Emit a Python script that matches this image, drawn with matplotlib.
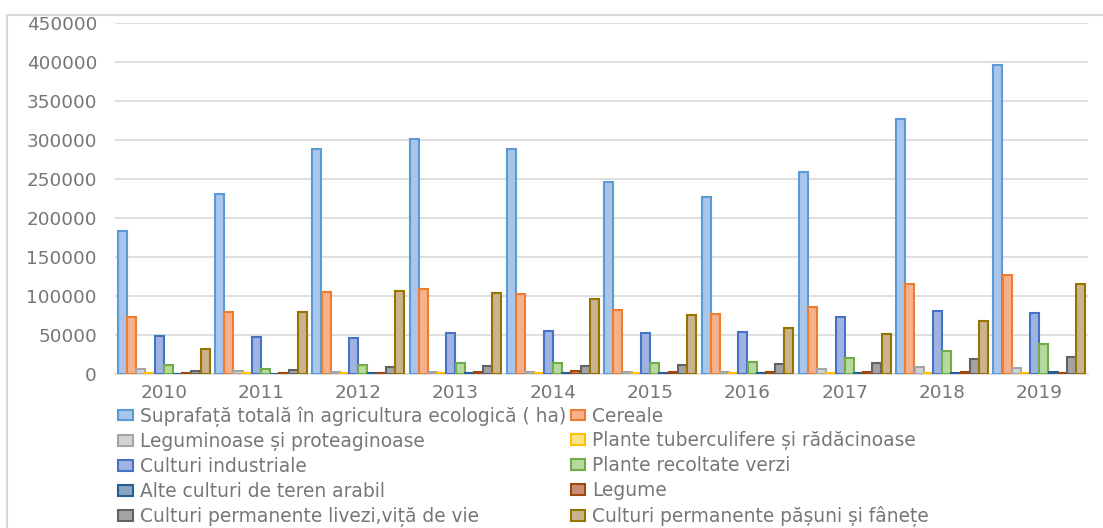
import matplotlib.pyplot as plt
import numpy as np
from matplotlib.patches import Rectangle

# Organic farming areas by crop group (ha), 2010-2019
years = ['2010', '2011', '2012', '2013', '2014', '2015', '2016', '2017', '2018', '2019']

total = [183300, 230400, 288500, 301300, 288500, 246000, 227000, 259000, 327000, 395800]
cereale = [73000, 79500, 105000, 109000, 102600, 81500, 76500, 85400, 115000, 127000]
leguminoase = [6400, 3500, 2500, 2000, 2000, 2000, 2500, 5900, 9400, 7200]
tuberculifere = [800, 1500, 1200, 900, 800, 900, 1000, 900, 1000, 900]
industriale = [48200, 48000, 45700, 52000, 54600, 53000, 53800, 73400, 80700, 78600]
verzi = [11000, 5900, 11000, 13600, 13600, 13500, 15400, 20500, 29000, 38000]
alte = [600, 500, 700, 800, 900, 900, 1000, 1000, 1200, 2000]
legume = [1000, 1000, 1200, 2500, 3300, 2500, 2500, 2500, 2500, 1500]
livezi = [3900, 5000, 8500, 10600, 10000, 11000, 12300, 13600, 18700, 22200]
pasuni = [32400, 79000, 106000, 103500, 96000, 76000, 58500, 50800, 67500, 115800]

labels = [
    'Suprafață totală în agricultura ecologică ( ha)',
    'Cereale',
    'Leguminoase și proteaginoase',
    'Plante tuberculifere și rădăcinoase',
    'Culturi industriale',
    'Plante recoltate verzi',
    'Alte culturi de teren arabil',
    'Legume',
    'Culturi permanente livezi,viță de vie',
    'Culturi permanente pășuni și fânețe',
]
series = [total, cereale, leguminoase, tuberculifere, industriale,
          verzi, alte, legume, livezi, pasuni]

edge_colors = ['#5B9BD5', '#ED7D31', '#A5A5A5', '#FFC000', '#4472C4',
               '#70AD47', '#255E91', '#9E480E', '#636363', '#997300']
fill_colors = ['#A9C6EA', '#F6B08C', '#D3D3D3', '#FFE38A', '#A0B2E2',
               '#B6D9A0', '#8AA4C4', '#C98D73', '#A3A3A3', '#C9B48E']

text_color = '#767676'
grid_color = '#D9D9D9'

fig = plt.figure(figsize=(11.03, 5.28), dpi=100)
ax = fig.add_axes([0.1043, 0.2917, 0.8821, 0.6647])

x = np.arange(len(years))
n = len(series)
w = 0.945 / n
for k, vals in enumerate(series):
    offs = (k - (n - 1) / 2) * w
    ax.bar(x + offs, vals, width=w * 0.98, color=fill_colors[k],
           edgecolor=edge_colors[k], linewidth=1.5, label=labels[k], zorder=3)

ax.set_xlim(-0.5, len(years) - 0.5)
ax.set_ylim(0, 450000)
ax.set_yticks(np.arange(0, 450001, 50000))
ax.set_yticklabels([str(v) for v in range(0, 450001, 50000)])
ax.set_xticks(x)
ax.set_xticklabels(years)
ax.tick_params(axis='y', length=0, pad=13, labelsize=13.2, labelcolor=text_color)
ax.tick_params(axis='x', length=0, pad=7, labelsize=13.2, labelcolor=text_color)

ax.grid(axis='y', color=grid_color, linewidth=1.2, zorder=0)
for side in ['left', 'right', 'top']:
    ax.spines[side].set_visible(False)
ax.spines['bottom'].set_color(grid_color)
ax.spines['bottom'].set_linewidth(1.2)

# legend laid out row by row in two columns
handles, lbls = ax.get_legend_handles_labels()
order = [0, 2, 4, 6, 8, 1, 3, 5, 7, 9]
fig.legend([handles[i] for i in order], [lbls[i] for i in order],
           loc='upper left', bbox_to_anchor=(0.107, 0.231), ncol=2,
           frameon=False, fontsize=13.4, labelcolor=text_color,
           handlelength=0.78, handleheight=0.5, handletextpad=0.38,
           columnspacing=0.25, labelspacing=0.315, borderpad=0, borderaxespad=0)

# outer chart border
fig.patches.append(Rectangle((7 / 1103, -0.05), 1.1, 1 - 15 / 528 + 0.05,
                             transform=fig.transFigure, fill=False,
                             edgecolor=grid_color, linewidth=1.5))

fig.savefig('out.png', dpi=100)
